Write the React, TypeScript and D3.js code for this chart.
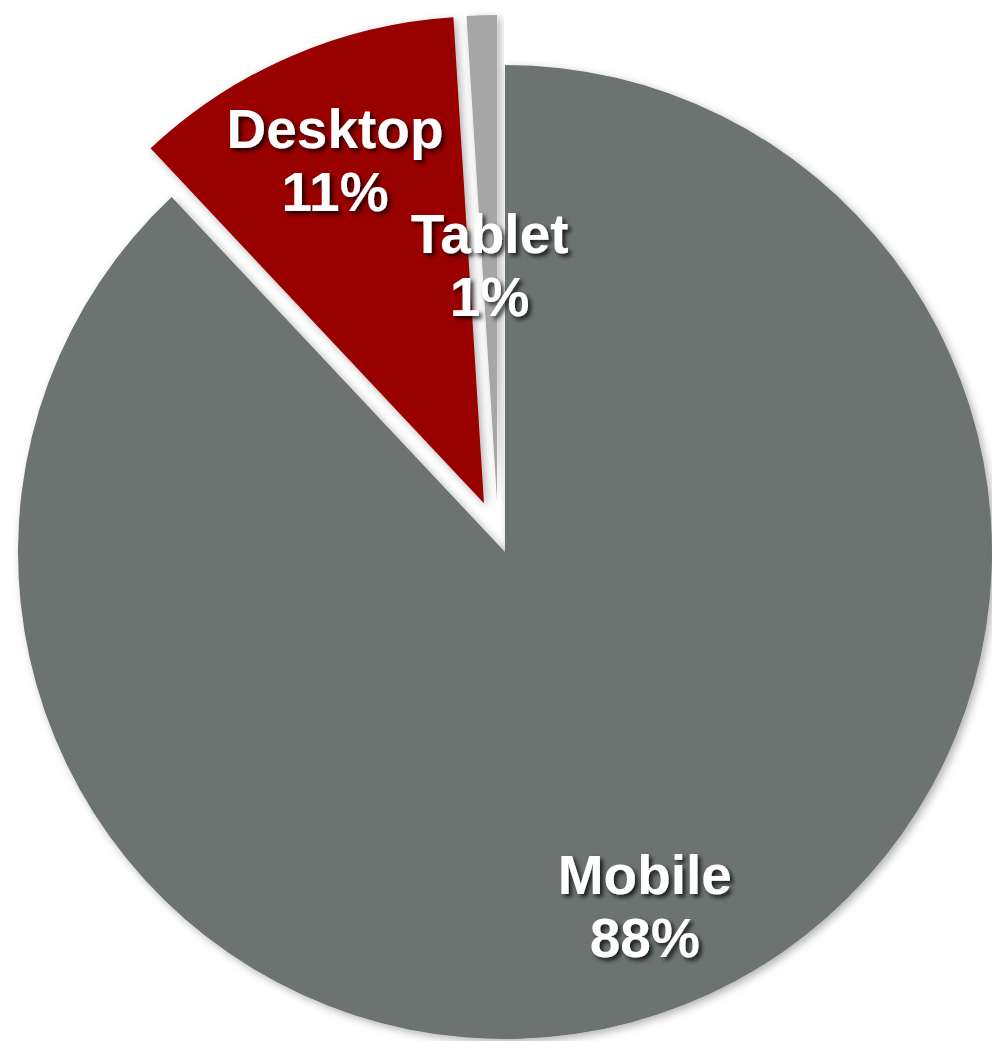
import React from "react";
import * as d3 from "d3";

const categories = ["Mobile", "Desktop", "Tablet"];
const values = [88, 11, 1];
const percentLabels = ["88%", "11%", "1%"];

const COLORS = ["#6c7370", "#990505", "#a6a6a6"];
const EXPLODE_DIST = [0, 53, 50.6];
const EXPLODE_ANGLE_DEG: (number | null)[] = [null, null, 351];
const LABEL_R = [0.78, 0.77, 0.49];

const W = 992;
const H = 1041;
const CX = 505;
const CY = 552;
const R = 487;

export default function App() {
  const pie = d3
    .pie<number>()
    .sort(null)
    .value((d) => d)
    .startAngle(0)
    .endAngle(2 * Math.PI);
  const arcs = pie(values);
  const arc = d3.arc<d3.PieArcDatum<number>>().innerRadius(0).outerRadius(R);

  const items = arcs.map((a, i) => {
    const mid = (a.startAngle + a.endAngle) / 2;
    const ea = EXPLODE_ANGLE_DEG[i] != null ? ((EXPLODE_ANGLE_DEG[i] as number) * Math.PI) / 180 : mid;
    const dx = EXPLODE_DIST[i] * Math.sin(ea);
    const dy = -EXPLODE_DIST[i] * Math.cos(ea);
    const lr = LABEL_R[i] * R;
    const lx = dx + lr * Math.sin(mid);
    const ly = dy - lr * Math.cos(mid);
    return { a, i, dx, dy, lx, ly };
  });

  return (
    <svg
      width={W}
      height={H}
      viewBox={`0 0 ${W} ${H}`}
      style={{ position: "absolute", left: 0, top: 0, background: "#fff" }}
    >
      <defs>
        <filter id="sliceShadow" x="-20%" y="-20%" width="140%" height="140%">
          <feDropShadow dx="3" dy="3" stdDeviation="4" floodColor="#000" floodOpacity="0.3" />
        </filter>
        <filter id="textShadow" x="-20%" y="-20%" width="140%" height="140%">
          <feDropShadow dx="3" dy="3" stdDeviation="2" floodColor="#000" floodOpacity="0.75" />
        </filter>
      </defs>
      <g transform={`translate(${CX},${CY})`}>
        {items.map(({ a, i, dx, dy }) => (
          <path
            key={categories[i]}
            d={arc(a) || ""}
            transform={`translate(${dx},${dy})`}
            fill={COLORS[i]}
            filter="url(#sliceShadow)"
          />
        ))}
        {items.map(({ i, lx, ly }) => (
          <text
            key={"lbl" + categories[i]}
            x={lx}
            y={ly}
            textAnchor="middle"
            fill="#fff"
            fontFamily="'Liberation Sans', Arial, sans-serif"
            fontWeight="bold"
            fontSize={55}
            filter="url(#textShadow)"
          >
            <tspan x={lx} dy={-11}>
              {categories[i]}
            </tspan>
            <tspan x={lx} dy={63}>
              {percentLabels[i]}
            </tspan>
          </text>
        ))}
      </g>
    </svg>
  );
}
